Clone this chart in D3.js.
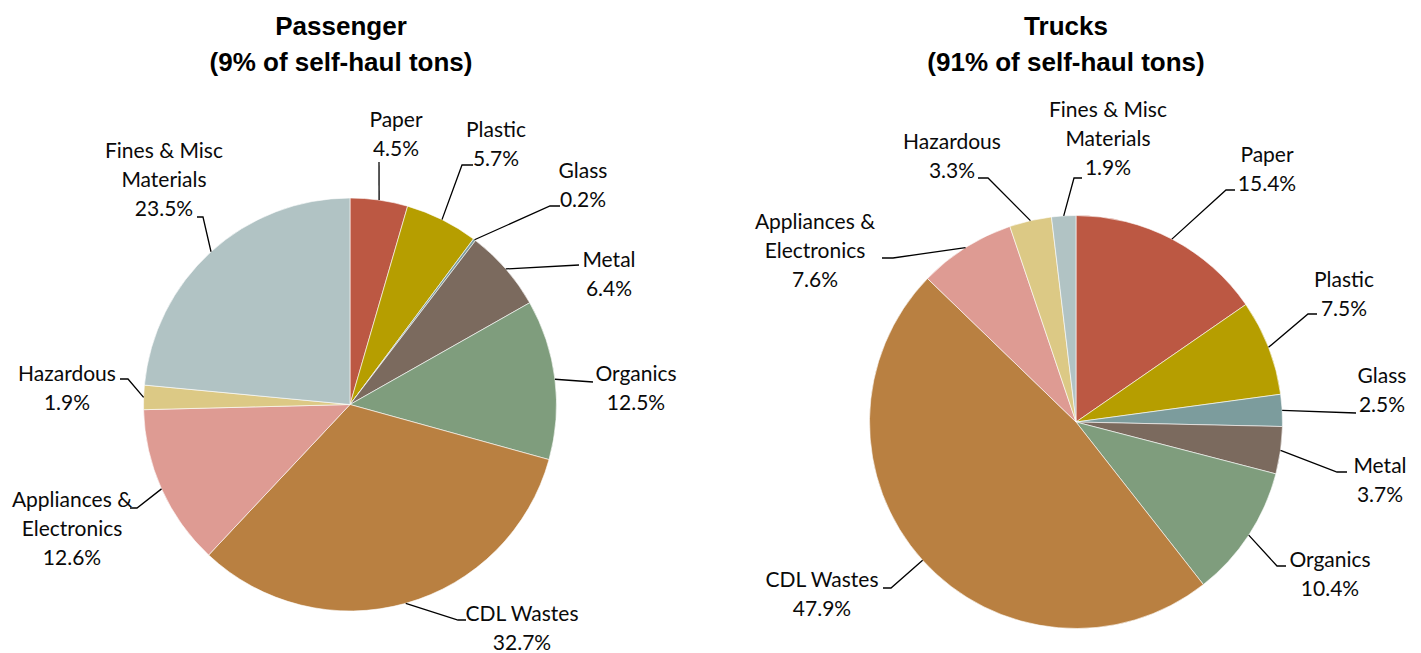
<!DOCTYPE html>
<html>
<head>
<meta charset="utf-8">
<script src="https://cdn.jsdelivr.net/npm/d3@7/dist/d3.min.js"></script>
<style>
  html, body { margin: 0; padding: 0; background: #fff; }
  svg { display: block; }
</style>
</head>
<body>
<svg id="chart" width="1421" height="653"></svg>
<script>
// Material categories (pie order, clockwise from 12 o'clock)
const categories = ["Paper", "Plastic", "Glass", "Metal", "Organics", "CDL Wastes",
                    "Appliances & Electronics", "Hazardous", "Fines & Misc Materials"];
// How each category name wraps in its label
const categoryLines = [["Paper"], ["Plastic"], ["Glass"], ["Metal"], ["Organics"], ["CDL Wastes"],
                       ["Appliances &", "Electronics"], ["Hazardous"], ["Fines & Misc", "Materials"]];
// Share of tons by material, percent
const passengerShares = [4.5, 5.7, 0.2, 6.4, 12.5, 32.7, 12.6, 1.9, 23.5];
const truckShares     = [15.4, 7.5, 2.5, 3.7, 10.4, 47.9, 7.6, 3.3, 1.9];
const panelTitles = [["Passenger", "(9% of self-haul tons)"],
                     ["Trucks", "(91% of self-haul tons)"]];
const categoryColors = ["#BC5843", "#B69E00", "#7C9C9D", "#7B6A5E", "#7F9D7D",
                        "#B98041", "#DE9B93", "#DCC985", "#B1C3C4"];

// Panel geometry and label placement (text anchor + leader tail near the text)
const panels = [
  {
    shares: passengerShares, title: panelTitles[0], titleX: 341,
    cx: 350, cy: 404.5, r: 206.5,
    labels: [
      { x: 396, y: 127, tail: [[379, 162]] },
      { x: 496, y: 137, tail: [[473, 165], [462, 165]] },
      { x: 583, y: 178, tail: [[560, 206], [550, 206]] },
      { x: 609, y: 267, tail: [[579, 265]] },
      { x: 636, y: 381, tail: [[593, 382]] },
      { x: 522, y: 621, tail: [[466, 620], [458, 620]] },
      { x: 72,  y: 507, tail: [[130, 508], [137, 508]] },
      { x: 67,  y: 381, tail: [[120, 379], [128, 379]] },
      { x: 164, y: 158, tail: [[197, 217], [203, 217]] }
    ]
  },
  {
    shares: truckShares, title: panelTitles[1], titleX: 1066,
    cx: 1076, cy: 422, r: 206.5,
    labels: [
      { x: 1267, y: 162, tail: [[1235, 190], [1226, 190]] },
      { x: 1344, y: 287, tail: [[1317, 314], [1308, 314]] },
      { x: 1382, y: 383, tail: [[1356, 413]] },
      { x: 1380, y: 473, tail: [[1347, 472], [1337, 472]] },
      { x: 1330, y: 567, tail: [[1286, 566], [1277, 566]] },
      { x: 822,  y: 587, tail: [[883, 588], [891, 588]] },
      { x: 815,  y: 229, tail: [[882, 258], [893, 258]] },
      { x: 952,  y: 149, tail: [[978, 178], [988, 178]] },
      { x: 1108, y: 117, tail: [[1082, 178], [1074, 178]] }
    ]
  }
];

const svg = d3.select("#chart");
const lineH = 28.8;
const labelFont = "Lato, 'Open Sans', sans-serif";

const pie = d3.pie().sort(null).value(d => d.value);

panels.forEach(p => {
  const data = categories.map((c, i) => ({ name: c, value: p.shares[i], i }));
  const arcs = pie(data);
  const arc = d3.arc().innerRadius(0).outerRadius(p.r);

  // Two-line bold title
  p.title.forEach((s, k) => {
    svg.append("text")
      .attr("x", p.titleX).attr("y", 35 + k * 36)
      .attr("text-anchor", "middle")
      .style("font-family", "'Liberation Sans', Arial, sans-serif")
      .style("font-weight", "bold").style("font-size", "26px").attr("fill", "#000")
      .text(s);
  });

  const g = svg.append("g").attr("transform", `translate(${p.cx},${p.cy})`);

  g.selectAll("path.slice")
    .data(arcs)
    .join("path")
    .attr("class", "slice")
    .attr("d", arc)
    .attr("fill", d => categoryColors[d.data.i])
    .attr("stroke", "#ffffff")
    .attr("stroke-width", 0.6);

  // Leader lines: from the outer edge at each slice's mid angle to the label
  const line = d3.line();
  arcs.forEach(d => {
    const lab = p.labels[d.data.i];
    const mid = (d.startAngle + d.endAngle) / 2;
    const edge = [p.cx + p.r * Math.sin(mid), p.cy - p.r * Math.cos(mid)];
    const pts = [edge].concat(lab.tail.slice().reverse());
    svg.append("path")
      .attr("d", line(pts))
      .attr("fill", "none")
      .attr("stroke", "#000")
      .attr("stroke-width", 1.3);

    const lines = categoryLines[d.data.i].concat([d3.format(".1f")(d.data.value) + "%"]);
    const t = svg.append("text")
      .attr("text-anchor", "middle")
      .style("font-family", labelFont)
      .style("font-size", "21px")
      .attr("fill", "#0a0a0a");
    lines.forEach((s, k) => {
      t.append("tspan").attr("x", lab.x).attr("y", lab.y + k * lineH).text(s);
    });
  });
});
</script>
</body>
</html>
